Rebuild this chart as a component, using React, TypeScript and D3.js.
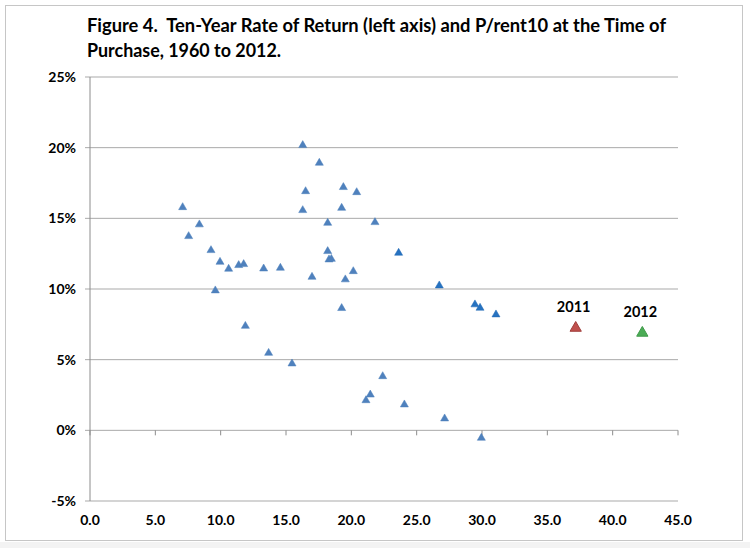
import * as d3 from 'd3';
import * as React from 'react';

const width = 750;
const height = 548;
const margin = { top: 77, right: 72, bottom: 47, left: 90 };

// P/rent10 at time of purchase (x) and ten-year rate of return in % (y)
const pRent = [
  7.09, 7.55, 8.37, 9.26, 9.95, 10.61, 11.38, 11.76, 9.59, 13.29, 14.57,
  16.28, 17.55, 16.5, 16.28, 16.99, 18.19, 18.19, 18.29, 18.47, 19.39, 20.41,
  19.26, 21.81, 19.54, 20.15, 19.26, 11.89, 13.67, 15.46, 21.12, 21.45, 22.4,
  24.06, 27.14, 29.95,
];
const returns = [
  15.78, 13.73, 14.56, 12.74, 11.91, 11.42, 11.68, 11.75, 9.89, 11.44, 11.49,
  20.17, 18.92, 16.91, 15.57, 10.85, 14.67, 12.67, 12.08, 12.12, 17.2, 16.84,
  15.73, 14.72, 10.67, 11.25, 8.64, 7.38, 5.47, 4.72, 2.12, 2.52, 3.82, 1.82,
  0.83, -0.54,
];

// later purchase years, drawn a little darker
const pRentLate = [23.62, 26.73, 29.46, 29.85, 31.07];
const returnsLate = [12.55, 10.24, 8.9, 8.66, 8.19];

const highlightYears = ['2011', '2012'];
const highlightPRent = [37.17, 42.27];
const highlightReturns = [7.24, 6.89];
const highlightFill = ['#c0504d', '#4bac55'];
const highlightStroke = ['#a03e3b', '#3f9a49'];

const xTicks = [0, 5, 10, 15, 20, 25, 30, 35, 40, 45];
const yTicks = [-5, 0, 5, 10, 15, 20, 25];

const titleLines = [
  'Figure 4.  Ten-Year Rate of Return (left axis) and P/rent10 at the Time of',
  'Purchase, 1960 to 2012.',
];

const font = 'Lato, "Open Sans", sans-serif';

export default function App() {
  const x = d3
    .scaleLinear()
    .domain([0, 45])
    .range([margin.left, width - margin.right]);
  const y = d3
    .scaleLinear()
    .domain([-5, 25])
    .range([height - margin.bottom, margin.top]);

  const small = d3.symbol(d3.symbolTriangle, 28)();
  const big = d3.symbol(d3.symbolTriangle, 55)();

  return (
    <svg
      width={width}
      height={height}
      style={{ position: 'absolute', left: 0, top: 0, background: '#fff' }}
    >
      <rect x={0} y={542} width={width} height={6} fill="#f3f3f3" />
      <rect
        x={5.5}
        y={5.5}
        width={737}
        height={535}
        fill="#fff"
        stroke="#c6c6c6"
      />

      {titleLines.map((t, i) => (
        <text
          key={i}
          x={87}
          y={32 + i * 24.5}
          fontFamily={font}
          fontWeight="bold"
          fontSize={18.5}
          fill="#000"
          textLength={i === 0 ? 579 : 194}
          lengthAdjust="spacingAndGlyphs"
          style={{ whiteSpace: 'pre' }}
        >
          {t}
        </text>
      ))}

      {/* horizontal gridlines + y ticks */}
      {yTicks.map(t => (
        <g key={t}>
          <line
            x1={margin.left - 5}
            x2={width - margin.right}
            y1={y(t)}
            y2={y(t)}
            stroke="#a9a9a9"
            strokeWidth={1}
          />
          <text
            x={76}
            y={y(t)}
            dy="0.36em"
            textAnchor="end"
            fontFamily={font}
            fontWeight="bold"
            fontSize={14}
            fill="#000"
          >
            {`${t}%`}
          </text>
        </g>
      ))}

      {/* y axis line */}
      <line
        x1={margin.left}
        x2={margin.left}
        y1={y(25)}
        y2={y(-5)}
        stroke="#8c8c8c"
        strokeWidth={1}
      />

      {/* x ticks on the 0% line, labels at the bottom */}
      {xTicks.map(t => (
        <g key={t}>
          <line
            x1={x(t)}
            x2={x(t)}
            y1={y(0)}
            y2={y(0) + 5}
            stroke="#8c8c8c"
          />
          <text
            x={x(t)}
            y={525}
            textAnchor="middle"
            fontFamily={font}
            fontWeight="bold"
            fontSize={14}
            fill="#000"
          >
            {t.toFixed(1)}
          </text>
        </g>
      ))}

      {pRent.map((p, i) => (
        <path
          key={`a${i}`}
          d={small || ''}
          transform={`translate(${x(p)},${y(returns[i])})`}
          fill="#4f81bd"
          stroke="#4a7ebb"
          strokeWidth={0.5}
        />
      ))}

      {pRentLate.map((p, i) => (
        <path
          key={`b${i}`}
          d={small || ''}
          transform={`translate(${x(p)},${y(returnsLate[i])})`}
          fill="#2672c0"
          stroke="#2268b4"
          strokeWidth={0.5}
        />
      ))}

      {highlightYears.map((yr, i) => (
        <g key={yr}>
          <path
            d={big || ''}
            transform={`translate(${x(highlightPRent[i])},${y(
              highlightReturns[i],
            )})`}
            fill={highlightFill[i]}
            stroke={highlightStroke[i]}
            strokeWidth={1}
          />
          <text
            x={x(highlightPRent[i]) - 2}
            y={y(highlightReturns[i]) - 16}
            textAnchor="middle"
            fontFamily={font}
            fontWeight="bold"
            fontSize={14.5}
            fill="#000"
          >
            {yr}
          </text>
        </g>
      ))}
    </svg>
  );
}
